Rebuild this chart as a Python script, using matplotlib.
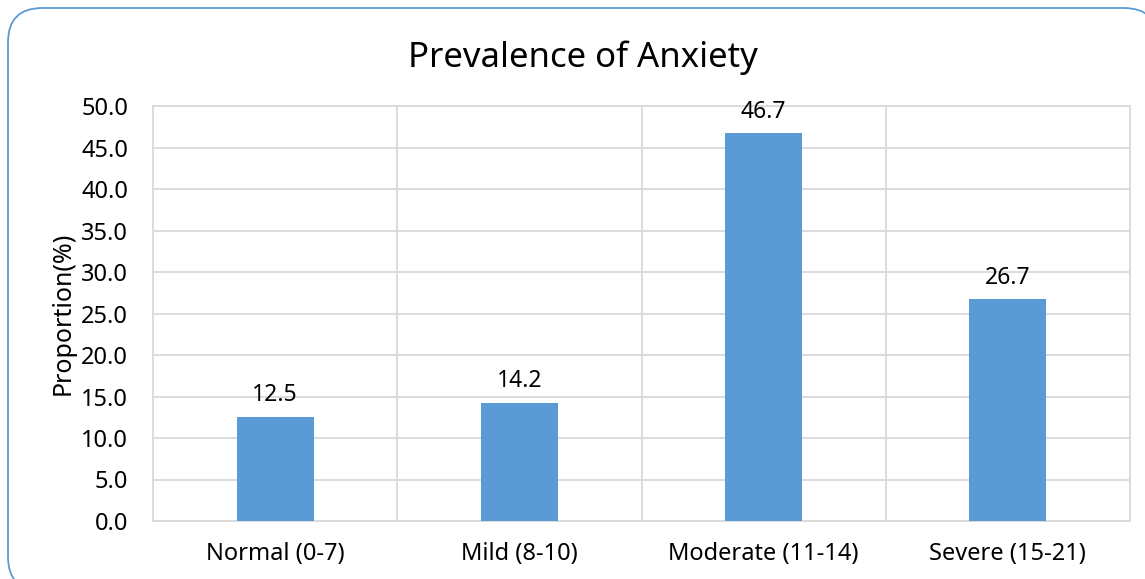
import matplotlib.pyplot as plt
from matplotlib.patches import FancyBboxPatch

categories = ["Normal (0-7)", "Mild (8-10)", "Moderate (11-14)", "Severe (15-21)"]
proportions = [12.5, 14.2, 46.7, 26.7]
y_ticks = [0, 5, 10, 15, 20, 25, 30, 35, 40, 45, 50]

plt.rcParams['font.family'] = ['Noto Sans', 'DejaVu Sans']

W, H = 1145, 579
fig = plt.figure(figsize=(W / 100, H / 100), dpi=100)
ax = fig.add_axes([153 / W, 1 - 521 / H, (1130 - 153) / W, (521 - 106) / H])

# rounded chart-area frame (runs off the right and bottom edges)
frame = FancyBboxPatch((8 / W, -12 / H), (1158 - 8) / W, (579 + 12 - 8) / H,
                       boxstyle="round,pad=0,rounding_size=0.03",
                       transform=fig.transFigure, facecolor='white',
                       edgecolor='#5B9BD5', linewidth=1.3, zorder=-10,
                       mutation_aspect=W / H)
fig.patches.append(frame)

x = [i + 0.5 for i in range(len(categories))]
bars = ax.bar(x, proportions, width=0.316, color='#5B9BD5', zorder=3)

for xi, v in zip(x, proportions):
    ax.text(xi, v + 1.9, f"{v:.1f}", ha='center', va='baseline', fontsize=16.5)

ax.set_xlim(0, 4)
ax.set_ylim(0, 50)
ax.set_yticks(y_ticks)
ax.set_yticklabels([f"{t:.1f}" for t in y_ticks], fontsize=17)
ax.set_xticks(x)
ax.set_xticklabels(categories, fontsize=17)
ax.set_xticks([1, 2, 3], minor=True)

ax.grid(axis='y', color='#D9D9D9', linewidth=1.3, zorder=0)
ax.grid(axis='x', which='minor', color='#D9D9D9', linewidth=1.3, zorder=0)
ax.tick_params(axis='both', which='both', length=0)
ax.tick_params(axis='y', pad=18)
ax.tick_params(axis='x', pad=15)
for side in ['left', 'bottom', 'right', 'top']:
    ax.spines[side].set_color('#D9D9D9')
    ax.spines[side].set_linewidth(1.3)

ax.set_ylabel("Proportion(%)", fontsize=18, labelpad=4)
fig.text(583 / W, 1 - 67 / H, "Prevalence of Anxiety", ha='center', va='baseline', fontsize=25)

fig.savefig("out.png", dpi=100)
